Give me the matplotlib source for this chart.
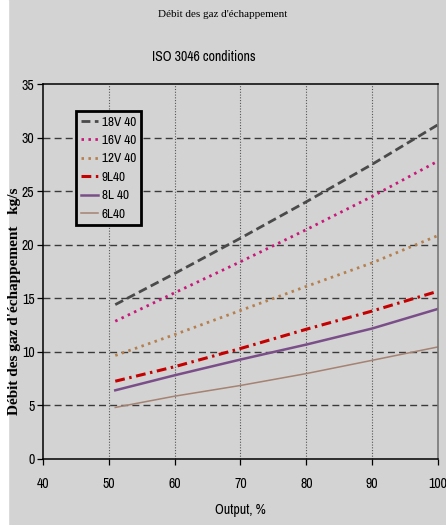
import matplotlib
matplotlib.use("Agg")
import matplotlib.pyplot as plt
from matplotlib.patches import Rectangle

# output (%) and exhaust gas flow (kg/s)
output = [51, 60, 70, 80, 90, 100]
v18 = [14.4, 17.3, 20.6, 24.0, 27.5, 31.2]
v16 = [12.85, 15.5, 18.4, 21.4, 24.5, 27.8]
v12 = [9.65, 11.6, 13.85, 16.1, 18.3, 20.85]
l9 = [7.25, 8.6, 10.3, 12.1, 13.8, 15.65]
l8 = [6.4, 7.8, 9.27, 10.67, 12.17, 14.0]
l6 = [4.8, 5.85, 6.85, 7.96, 9.2, 10.45]
labels = ["18V 40", "16V 40", "12V 40", "9L40", "8L 40", "6L40"]
xticks = [40, 50, 60, 70, 80, 90, 100]
yticks = [0, 5, 10, 15, 20, 25, 30, 35]

bg = "#d3d3d3"
narrow = ["Archivo Narrow", "PT Sans Narrow", "DejaVu Sans"]
serif = ["Liberation Serif", "DejaVu Serif"]

fig = plt.figure(figsize=(4.46, 5.25), dpi=100, facecolor=bg)
fig.patches.append(Rectangle((0, 0), 8 / 446, 1, transform=fig.transFigure,
                             color="white", zorder=0))
ax = fig.add_axes([0.096, 0.126, 0.886, 0.714])
ax.set_facecolor(bg)

styles = [
    dict(color="#4a4a4a", lw=2.0, ls=(0, (3.2, 1.6))),
    dict(color="#c8187a", lw=2.0, ls=(0, (0.9, 1.6))),
    dict(color="#b5804f", lw=2.0, ls=(0, (0.9, 1.6))),
    dict(color="#c40000", lw=2.2, ls=(0, (3.2, 1.5, 0.8, 1.5))),
    dict(color="#7a4e88", lw=1.8, ls="-"),
    dict(color="#a58272", lw=1.1, ls="-"),
]
for ys, lab, st in zip([v18, v16, v12, l9, l8, l6], labels, styles):
    ax.plot(output, ys, label=lab, **st)

ax.set_xlim(40, 100)
ax.set_ylim(0, 35)
ax.set_xticks(xticks)
ax.set_yticks(yticks)

for y in yticks[1:-1]:
    ax.axhline(y, color="#3a3a3a", lw=1.0, ls=(0, (5, 3)), zorder=1)
for x in xticks[1:-1]:
    ax.axvline(x, color="#555555", lw=0.8, ls=(0, (1, 1.5)), zorder=1)

for s in ["left", "bottom", "top"]:
    ax.spines[s].set_color("black")
    ax.spines[s].set_linewidth(1.1)
ax.spines["right"].set_color("#777777")
ax.spines["right"].set_linewidth(1.2)

ax.tick_params(direction="out", length=4, width=0.9, colors="black")
ax.tick_params(axis="x", pad=9, labelsize=10)
ax.tick_params(axis="y", pad=2, labelsize=10)
for t in ax.get_xticklabels() + ax.get_yticklabels():
    t.set_family(narrow)
ax.get_xticklabels()[-1].set_x(99.6)

ax.set_xlabel("Output, %", family=narrow, fontsize=10, labelpad=9)

leg = ax.legend(loc="upper left", bbox_to_anchor=(0.084, 0.928), borderaxespad=0,
                prop={"family": narrow, "size": 9.5}, handlelength=1.25,
                handletextpad=0.3, labelspacing=0.55, borderpad=0.4,
                fancybox=False, framealpha=1, facecolor=bg, edgecolor="black")
leg.get_frame().set_linewidth(2.0)

fig.text(0.5, 0.972, "Débit des gaz d'échappement", ha="center", va="center",
         family=serif, fontsize=8)
fig.text(0.457, 0.891, "ISO 3046 conditions", ha="center", va="center",
         family=narrow, fontsize=10)
fig.text(0.033, 0.427, "Débit des gaz d'échappement   kg/s", rotation=90,
         ha="center", va="center", family=serif, fontweight="bold", fontsize=11)

fig.savefig("out.png", dpi=100, facecolor=bg)
